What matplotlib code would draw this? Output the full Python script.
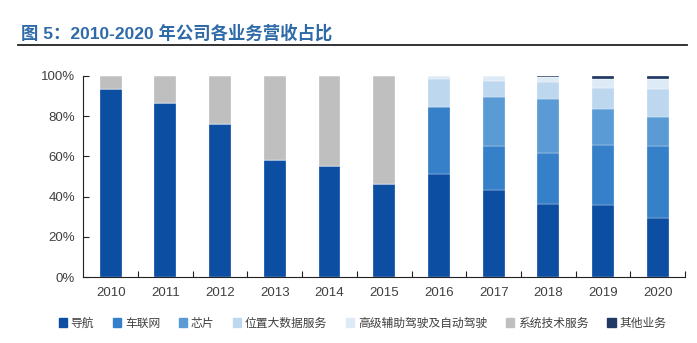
import numpy as np
import matplotlib
matplotlib.use('Agg')
import matplotlib.pyplot as plt
from matplotlib.ticker import PercentFormatter, FixedLocator
from matplotlib.lines import Line2D

plt.rcParams['font.family'] = ['Liberation Sans', 'Noto Sans CJK SC', 'DejaVu Sans']

YEARS = ['2010', '2011', '2012', '2013', '2014', '2015',
         '2016', '2017', '2018', '2019', '2020']
SERIES = ['导航', '车联网', '芯片', '位置大数据服务', '高级辅助驾驶及自动驾驶',
          '系统技术服务', '其他业务']
COLORS = ['#0b4ea2', '#3580c8', '#5b9bd5', '#bdd7ee', '#deebf7',
          '#bfbfbf', '#1f3864']

# shares in percent
nav = [93.3, 86.6, 76.2, 58.2, 55.4, 46.4, 51.2, 43.3, 36.4, 35.9, 29.6]
iov = [0, 0, 0, 0, 0, 0, 33.1, 21.8, 25.3, 29.9, 35.5]
chip = [0, 0, 0, 0, 0, 0, 0, 24.2, 26.9, 17.7, 14.4]
loc_data = [0, 0, 0, 0, 0, 0, 13.9, 8.2, 8.1, 10.4, 13.9]
adas = [0, 0, 0, 0, 0, 0, 1.8, 2.5, 2.5, 4.6, 5.0]
sys_tech = [6.7, 13.4, 23.8, 41.8, 44.6, 53.6, 0, 0, 0, 0, 0]
other = [0, 0, 0, 0, 0, 0, 0, 0, 0.8, 1.5, 1.6]

data = [nav, iov, chip, loc_data, adas, sys_tech, other]

fig = plt.figure(figsize=(6.97, 3.43), dpi=100)
ax = fig.add_axes([0.1195, 0.1915, 0.8635, 0.5878])

x = np.arange(len(YEARS))
bottom = np.zeros(len(YEARS))
handles = []
for name, vals, col in zip(SERIES, data, COLORS):
    v = np.array(vals) / 100.0
    ax.bar(x, v, width=0.4, bottom=bottom, color=col, label=name,
           edgecolor='white', linewidth=0.2)
    bottom += v
    handles.append(plt.Rectangle((0, 0), 1, 1, color=col))

ax.set_xlim(-0.5, len(YEARS) - 0.5)
ax.set_ylim(0, 1)
ax.yaxis.set_major_locator(FixedLocator([0, 0.2, 0.4, 0.6, 0.8, 1.0]))
ax.yaxis.set_major_formatter(PercentFormatter(1.0, decimals=0))
ax.set_xticks(x)
ax.set_xticklabels(YEARS)
ax.tick_params(axis='x', which='major', length=0, pad=7,
               labelsize=9.5, labelcolor='#404040')
ax.xaxis.set_minor_locator(FixedLocator(np.arange(0.5, len(YEARS), 1.0)))
ax.tick_params(axis='x', which='minor', direction='in', length=4,
               width=0.8, color='#222222')
ax.tick_params(axis='y', direction='in', length=4, width=0.8,
               color='#222222', labelsize=9.5, labelcolor='#404040', pad=6)
for s in ['top', 'right']:
    ax.spines[s].set_visible(False)
for s in ['left', 'bottom']:
    ax.spines[s].set_color('#222222')
    ax.spines[s].set_linewidth(0.8)

fig.legend(handles, SERIES, loc='center', bbox_to_anchor=(0.52, 0.058),
           ncol=7, frameon=False, fontsize=8.5, handlelength=0.7,
           handleheight=0.7, handletextpad=0.3, columnspacing=1.6,
           labelcolor='#404040', prop={'family': ['Noto Sans CJK SC'], 'size': 8.5})

fig.text(0.03, 0.905, '图 5：2010-2020 年公司各业务营收占比', fontsize=12.5,
         fontweight='bold', color='#2f6aa8', va='center',
         family=['Liberation Sans', 'Noto Sans CJK SC'])
fig.add_artist(Line2D([0.026, 0.985], [0.868, 0.868], color='#222222',
                      linewidth=1.3, transform=fig.transFigure))

fig.savefig('out.png', dpi=100)
